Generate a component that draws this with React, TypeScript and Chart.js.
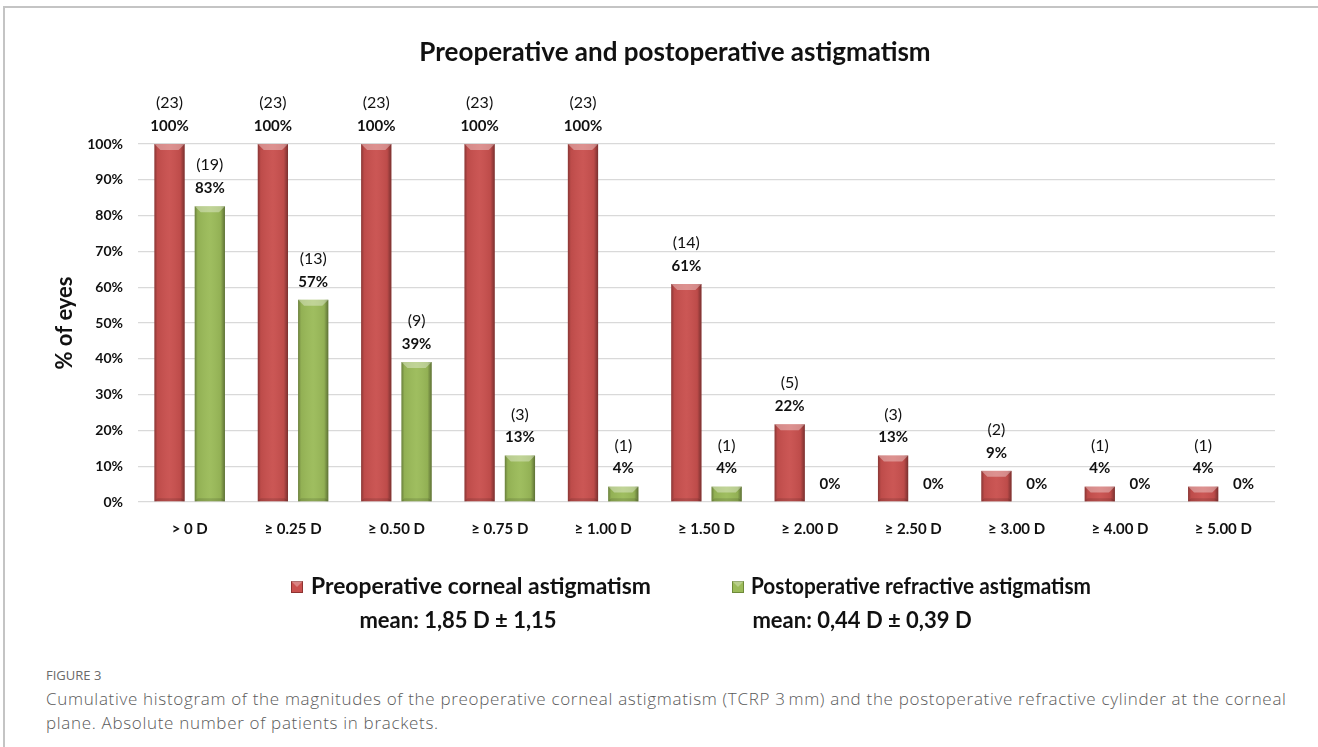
import React, { useEffect, useRef } from "react";
import { Chart, registerables } from "chart.js";

Chart.register(...registerables);

const chartTitle = "Preoperative and postoperative astigmatism";
const yAxisTitle = "% of eyes";
const categories = ["> 0 D", "≥ 0.25 D", "≥ 0.50 D", "≥ 0.75 D", "≥ 1.00 D", "≥ 1.50 D", "≥ 2.00 D", "≥ 2.50 D", "≥ 3.00 D", "≥ 4.00 D", "≥ 5.00 D"];
const preopPercent = [100, 100, 100, 100, 100, 60.9, 21.7, 13.0, 8.7, 4.3, 4.3];
const postopPercent = [82.6, 56.5, 39.1, 13.0, 4.3, 4.3, 0, 0, 0, 0, 0];
const preopCount = [23, 23, 23, 23, 23, 14, 5, 3, 2, 1, 1];
const postopCount = [19, 13, 9, 3, 1, 1, 0, 0, 0, 0, 0];
const yTickValues = [0, 10, 20, 30, 40, 50, 60, 70, 80, 90, 100];
const seriesLabels = ["Preoperative corneal astigmatism", "Postoperative refractive astigmatism"];
const seriesMeans = ["mean: 1,85 D ± 1,15", "mean: 0,44 D ± 0,39 D"];
const captionLabel = "FIGURE 3";
const captionLine1 = "Cumulative histogram of the magnitudes of the preoperative corneal astigmatism (TCRP 3\u202Fmm) and the postoperative refractive cylinder at the corneal";
const captionLine2 = "plane. Absolute number of patients in brackets.";

const RED = "#C9504E";
const RED_DARK = "#8E3331";
const GREEN = "#9BBB59";
const GREEN_DARK = "#6E8A38";
const FONT = "Lato, 'Open Sans', sans-serif";

const counts = [preopCount, postopCount];

const bevelPlugin = {
  id: "bevel",
  afterDatasetsDraw(chart: any) {
    const ctx = chart.ctx;
    chart.data.datasets.forEach((ds: any, di: number) => {
      const meta = chart.getDatasetMeta(di);
      meta.data.forEach((el: any) => {
        const { x, y, base, width } = el.getProps(["x", "y", "base", "width"], true);
        const h = base - y;
        if (h <= 0.5) return;
        const left = x - width / 2;
        const right = x + width / 2;
        ctx.save();
        const g = ctx.createLinearGradient(left, 0, right, 0);
        g.addColorStop(0, "rgba(0,0,0,0.32)");
        g.addColorStop(0.1, "rgba(0,0,0,0.06)");
        g.addColorStop(0.5, "rgba(255,255,255,0.04)");
        g.addColorStop(0.86, "rgba(0,0,0,0.06)");
        g.addColorStop(1, "rgba(0,0,0,0.4)");
        ctx.fillStyle = g;
        ctx.fillRect(left, y, width, h);
        const b = Math.min(6, h / 2);
        ctx.beginPath();
        ctx.moveTo(left, y);
        ctx.lineTo(right, y);
        ctx.lineTo(right - b, y + b);
        ctx.lineTo(left + b, y + b);
        ctx.closePath();
        ctx.fillStyle = "rgba(255,255,255,0.35)";
        ctx.fill();
        const bb = Math.min(3, h / 3);
        ctx.beginPath();
        ctx.moveTo(left, base);
        ctx.lineTo(right, base);
        ctx.lineTo(right - bb, base - bb);
        ctx.lineTo(left + bb, base - bb);
        ctx.closePath();
        ctx.fillStyle = "rgba(0,0,0,0.12)";
        ctx.fill();
        ctx.restore();
      });
    });
  },
};

const labelsPlugin = {
  id: "valueLabels",
  afterDatasetsDraw(chart: any) {
    const ctx = chart.ctx;
    ctx.save();
    ctx.textAlign = "center";
    ctx.textBaseline = "middle";
    ctx.fillStyle = "#111";
    chart.data.datasets.forEach((ds: any, di: number) => {
      const meta = chart.getDatasetMeta(di);
      meta.data.forEach((el: any, i: number) => {
        const { x, y } = el.getProps(["x", "y"], true);
        const v = ds.data[i];
        const c = counts[di][i];
        ctx.font = `bold 15px ${FONT}`;
        ctx.fillText(`${Math.round(v)}%`, x, y - 18);
        if (c > 0) {
          ctx.font = `16px ${FONT}`;
          ctx.fillText(`(${c})`, x, y - 41);
        }
      });
    });
    ctx.restore();
  },
};

const titleLegendPlugin = {
  id: "titleLegend",
  afterDraw(chart: any) {
    const ctx = chart.ctx;
    ctx.save();
    ctx.fillStyle = "#111";
    ctx.textBaseline = "middle";
    ctx.textAlign = "center";
    ctx.font = `bold 26px ${FONT}`;
    ctx.fillText(chartTitle, 675, 53);

    const items = [
      { box: 297, text: 311, mean: 458, color: RED, dark: RED_DARK },
      { box: 738, text: 751, mean: 862, color: GREEN, dark: GREEN_DARK },
    ];
    items.forEach((it, i) => {
      const s = 12;
      ctx.fillStyle = it.color;
      ctx.fillRect(it.box - s / 2, 587 - s / 2, s, s);
      ctx.strokeStyle = it.dark;
      ctx.lineWidth = 1;
      ctx.strokeRect(it.box - s / 2 + 0.5, 587 - s / 2 + 0.5, s - 1, s - 1);
      ctx.beginPath();
      ctx.moveTo(it.box - s / 2, 587 - s / 2);
      ctx.lineTo(it.box + s / 2, 587 - s / 2);
      ctx.lineTo(it.box, 587);
      ctx.closePath();
      ctx.fillStyle = "rgba(255,255,255,0.3)";
      ctx.fill();
      ctx.fillStyle = "#111";
      ctx.textAlign = "left";
      ctx.font = `bold 23px ${FONT}`;
      ctx.fillText(seriesLabels[i], it.text, 587, 340);
      ctx.textAlign = "center";
      ctx.font = `bold 22px ${FONT}`;
      ctx.fillText(seriesMeans[i], it.mean, 621);
    });
    ctx.restore();
  },
};

function ChartView() {
  const ref = useRef<HTMLCanvasElement | null>(null);
  useEffect(() => {
    if (!ref.current) return;
    Chart.defaults.font.family = FONT;
    const chart = new Chart(ref.current, {
      type: "bar",
      data: {
        labels: categories,
        datasets: [
          {
            label: seriesLabels[0],
            data: preopPercent,
            backgroundColor: RED,
            borderColor: RED_DARK,
            borderWidth: 0,
            categoryPercentage: 0.78,
            barPercentage: 0.75,
          },
          {
            label: seriesLabels[1],
            data: postopPercent,
            backgroundColor: GREEN,
            borderColor: GREEN_DARK,
            borderWidth: 0,
            categoryPercentage: 0.78,
            barPercentage: 0.75,
          },
        ],
      },
      options: {
        responsive: false,
        animation: false,
        devicePixelRatio: 1,
        layout: { padding: { left: 50, right: 43, top: 144, bottom: 108 } },
        plugins: {
          legend: { display: false },
          title: { display: false },
          tooltip: { enabled: false },
        },
        scales: {
          x: {
            grid: { display: false },
            border: { display: false },
            ticks: { color: "#111", font: { size: 15, weight: "bold" }, padding: 10, maxRotation: 0 },
            afterFit(scale: any) {
              scale.height = 40;
            },
          },
          y: {
            min: 0,
            max: 100,
            afterBuildTicks(scale: any) {
              scale.ticks = yTickValues.map((v) => ({ value: v }));
            },
            grid: { color: "#D9D9D9", lineWidth: 1.3, drawTicks: false },
            border: { display: false },
            ticks: {
              color: "#111",
              font: { size: 14, weight: "bold" },
              padding: 15,
              callback: (v: any) => `${v}%`,
            },
            title: {
              display: true,
              text: yAxisTitle,
              color: "#111",
              font: { size: 22, weight: "bold" },
              padding: { top: 2, bottom: 0 },
            },
            afterFit(scale: any) {
              scale.width = 88;
            },
          },
        },
      },
      plugins: [bevelPlugin, labelsPlugin, titleLegendPlugin],
    });
    return () => chart.destroy();
  }, []);
  return <canvas ref={ref} width={1318} height={650} style={{ display: "block" }} />;
}

export default function App() {
  return (
    <div style={{ position: "absolute", left: 0, top: 0, width: 1318, height: 747, background: "#fff", overflow: "hidden" }}>
      <div style={{ position: "absolute", left: 3, top: 6, width: 1320, height: 760, borderTop: "2px solid #C4C4C4", borderLeft: "2px solid #C4C4C4" }} />
      <div style={{ position: "absolute", left: 0, top: 0 }}>
        <ChartView />
      </div>
      <div style={{ position: "absolute", left: 46, top: 666, fontFamily: "'Open Sans', sans-serif", color: "#6a6a6a", fontSize: 13 }}>
        {captionLabel}
      </div>
      <div style={{ position: "absolute", left: 46, top: 687, fontFamily: "'Open Sans', sans-serif", fontWeight: 300, color: "#5a5a5a", fontSize: 17, lineHeight: "24px", letterSpacing: 0.68, whiteSpace: "nowrap" }}>
        {captionLine1}
        <br />
        {captionLine2}
      </div>
    </div>
  );
}
